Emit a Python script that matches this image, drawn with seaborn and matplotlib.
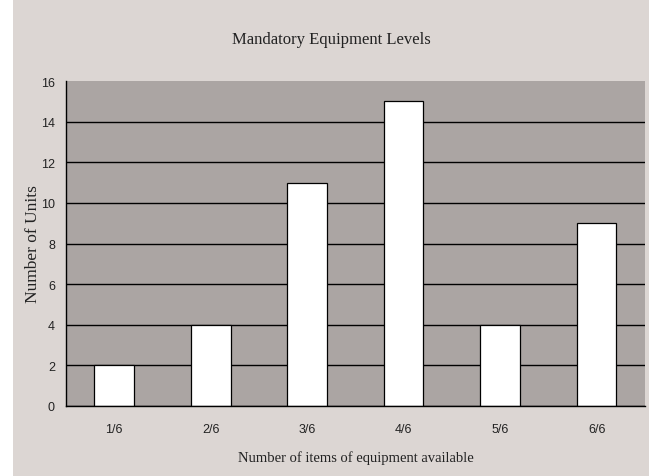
import pandas as pd
import matplotlib
matplotlib.use("Agg")
import matplotlib.pyplot as plt
import seaborn as sns
from matplotlib.patches import Rectangle

# Data
levels = ['1/6', '2/6', '3/6', '4/6', '5/6', '6/6']
units = [2, 4, 11, 15, 4, 9]
y_ticks = [0, 2, 4, 6, 8, 10, 12, 14, 16]

df = pd.DataFrame({'Level': levels, 'Units': units})

sns.set_style("white")
plt.rcParams['font.family'] = ['Liberation Sans Narrow', 'Liberation Sans', 'DejaVu Sans']

fig_bg = '#DCD6D3'
plot_bg = '#ABA5A3'

fig = plt.figure(figsize=(6.49, 4.77), dpi=100, facecolor=fig_bg)
ax = fig.add_axes([0.1017, 0.1468, 0.892, 0.681])
ax.set_facecolor(plot_bg)

# white strip on the left edge of the picture
fig.patches.append(Rectangle((0, 0), 13 / 649, 1, transform=fig.transFigure,
                             facecolor='white', edgecolor='none', zorder=-1))

sns.barplot(data=df, x='Level', y='Units', order=levels, color='white',
            edgecolor='black', linewidth=0.9, width=0.41, saturation=1, ax=ax)

ax.set_xlim(-0.5, 5.5)
ax.set_ylim(0, 16)
ax.set_yticks(y_ticks)
ax.yaxis.grid(True, color='black', linewidth=1.0)
ax.set_axisbelow(True)
# no line along the top edge
ax.yaxis.get_gridlines()[-1].set_visible(False)

# Excel-style ticks between categories
ax.set_xticks([i - 0.5 for i in range(len(levels) + 1)], minor=False)
ax.set_xticklabels([])
ax.set_xticks(range(len(levels)), minor=True)
ax.set_xticklabels(levels, minor=True)
ax.tick_params(axis='x', which='major', direction='out', length=5, width=0.8, color='black')
ax.tick_params(axis='x', which='minor', length=0, pad=12, labelsize=9, labelcolor='#222222')
ax.tick_params(axis='y', direction='out', length=5, width=0.8, color='black',
               labelsize=9, labelcolor='#222222', pad=3)

for side in ['top', 'right']:
    ax.spines[side].set_visible(False)
for side in ['left', 'bottom']:
    ax.spines[side].set_color('black')
    ax.spines[side].set_linewidth(1.0)

serif = ['Liberation Serif', 'DejaVu Serif']
ax.set_xlabel('Number of items of equipment available', family=serif, fontsize=10.5,
              color='#222222')
ax.xaxis.set_label_coords(0.5, -0.137)
ax.set_ylabel('Number of Units', family=serif, fontsize=12.5, color='#222222')
ax.yaxis.set_label_coords(-0.044, 0.5)
fig.text(0.51, 0.916, 'Mandatory Equipment Levels', family=serif, fontsize=12,
         color='#222222', ha='center', va='center')

fig.savefig('out.png', dpi=100, facecolor=fig_bg)
